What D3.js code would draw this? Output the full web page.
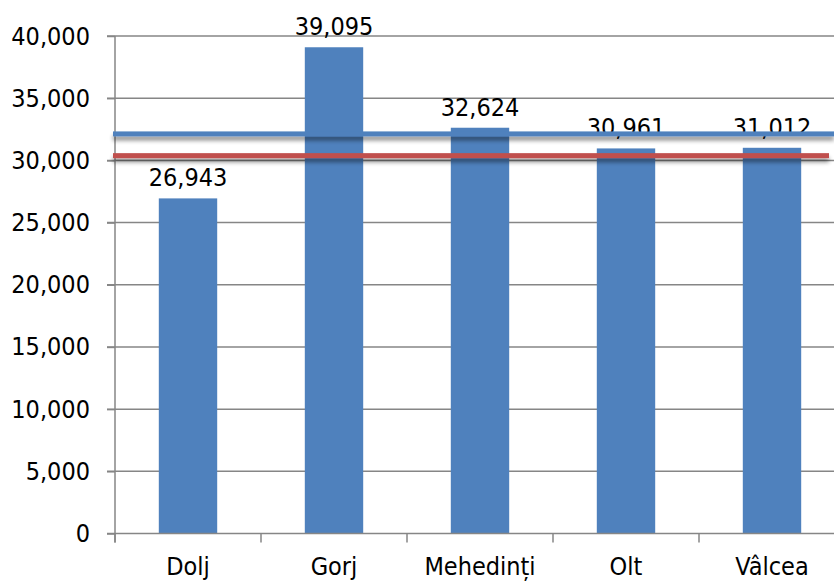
<!DOCTYPE html>
<html>
<head>
<meta charset="utf-8">
<script src="https://cdn.jsdelivr.net/npm/d3@7"></script>
<style>
  body { margin: 0; background: #fff; }
  svg { display: block; font-family: "DejaVu Sans Condensed", "DejaVu Sans", sans-serif; }
</style>
</head>
<body>
<svg id="chart" width="834" height="581"></svg>
<script>
// chart data
const counties = ['Dolj', 'Gorj', 'Mehedinți', 'Olt', 'Vâlcea'];
const values = [26943, 39095, 32624, 30961, 31012];
const yTicks = [0, 5000, 10000, 15000, 20000, 25000, 30000, 35000, 40000];
const refLines = [30380, 32127];   // red, blue
const refColors = ['#c0504d', '#4f81bd'];

const svg = d3.select('#chart');
const left = 115, bandW = 146;
const width = bandW * counties.length;
const fontSize = 25;

// scales
const x = d3.scaleBand()
    .domain(counties)
    .range([left, left + width])
    .paddingInner(0.6)
    .paddingOuter(0.3);

const y = d3.scaleLinear()
    .domain([0, 40000])
    .range([533.5, 36]);

const fmt = d3.format(',');

// shadow filter for the reference lines
const defs = svg.append('defs');
const f = defs.append('filter').attr('id', 'shadow')
    .attr('filterUnits', 'userSpaceOnUse')
    .attr('x', 0).attr('y', 0).attr('width', 834).attr('height', 581);
f.append('feGaussianBlur').attr('in', 'SourceAlpha').attr('stdDeviation', 2).attr('result', 'b');
f.append('feOffset').attr('in', 'b').attr('dy', 4).attr('result', 'o');
f.append('feComponentTransfer').attr('in', 'o').attr('result', 's')
    .append('feFuncA').attr('type', 'linear').attr('slope', 0.45);
const m = f.append('feMerge');
m.append('feMergeNode').attr('in', 's');
m.append('feMergeNode').attr('in', 'SourceGraphic');

// gridlines
svg.append('g')
    .selectAll('line')
    .data(yTicks.slice(1))
    .join('line')
    .attr('x1', left - 8)
    .attr('x2', 834)
    .attr('y1', d => y(d))
    .attr('y2', d => y(d))
    .attr('stroke', '#868686')
    .attr('stroke-width', 1.5);

// y axis
const yAxis = svg.append('g')
    .attr('transform', `translate(${left},0)`)
    .call(d3.axisLeft(y).tickValues(yTicks).tickFormat(fmt).tickSize(8).tickPadding(17));
yAxis.select('.domain').attr('d', `M0,${y(40000)}V${y(0) + 9}`);
yAxis.selectAll('.domain, line').attr('stroke', '#868686').attr('stroke-width', 1.5);
yAxis.selectAll('text').attr('font-size', fontSize).attr('fill', '#000')
    .attr('font-family', '"DejaVu Sans Condensed", "DejaVu Sans", sans-serif');

// bars
svg.append('g')
    .selectAll('rect')
    .data(counties)
    .join('rect')
    .attr('x', d => x(d))
    .attr('width', x.bandwidth())
    .attr('y', (d, i) => y(values[i]))
    .attr('height', (d, i) => y(0) - y(values[i]))
    .attr('fill', '#4f81bd');

// x axis
const xAxis = svg.append('g')
    .attr('transform', `translate(0,${y(0)})`);
xAxis.append('line')
    .attr('x1', left - 8).attr('x2', 834)
    .attr('stroke', '#868686').attr('stroke-width', 1.5);
xAxis.selectAll('.tick')
    .data(d3.range(counties.length + 1))
    .join('line')
    .attr('class', 'tick')
    .attr('x1', i => left + i * bandW)
    .attr('x2', i => left + i * bandW)
    .attr('y1', 0).attr('y2', 9)
    .attr('stroke', '#868686').attr('stroke-width', 1.5);
xAxis.selectAll('text')
    .data(counties)
    .join('text')
    .attr('x', d => x(d) + x.bandwidth() / 2)
    .attr('y', 41)
    .attr('text-anchor', 'middle')
    .attr('font-size', fontSize)
    .text(d => d);

// value labels
svg.append('g')
    .selectAll('text')
    .data(counties)
    .join('text')
    .attr('x', d => x(d) + x.bandwidth() / 2)
    .attr('y', (d, i) => y(values[i]) - 12)
    .attr('text-anchor', 'middle')
    .attr('font-size', fontSize)
    .text((d, i) => fmt(values[i]));

// reference lines (drawn as thin rects so the shadow filter has a box)
svg.append('g')
    .attr('filter', 'url(#shadow)')
    .selectAll('rect')
    .data(refLines)
    .join('rect')
    .attr('x', left - 2)
    .attr('width', (d, i) => (i === 0 ? 829 : 834) - (left - 2))
    .attr('y', d => y(d) - 2.5)
    .attr('height', 5)
    .attr('fill', (d, i) => refColors[i]);
</script>
</body>
</html>
